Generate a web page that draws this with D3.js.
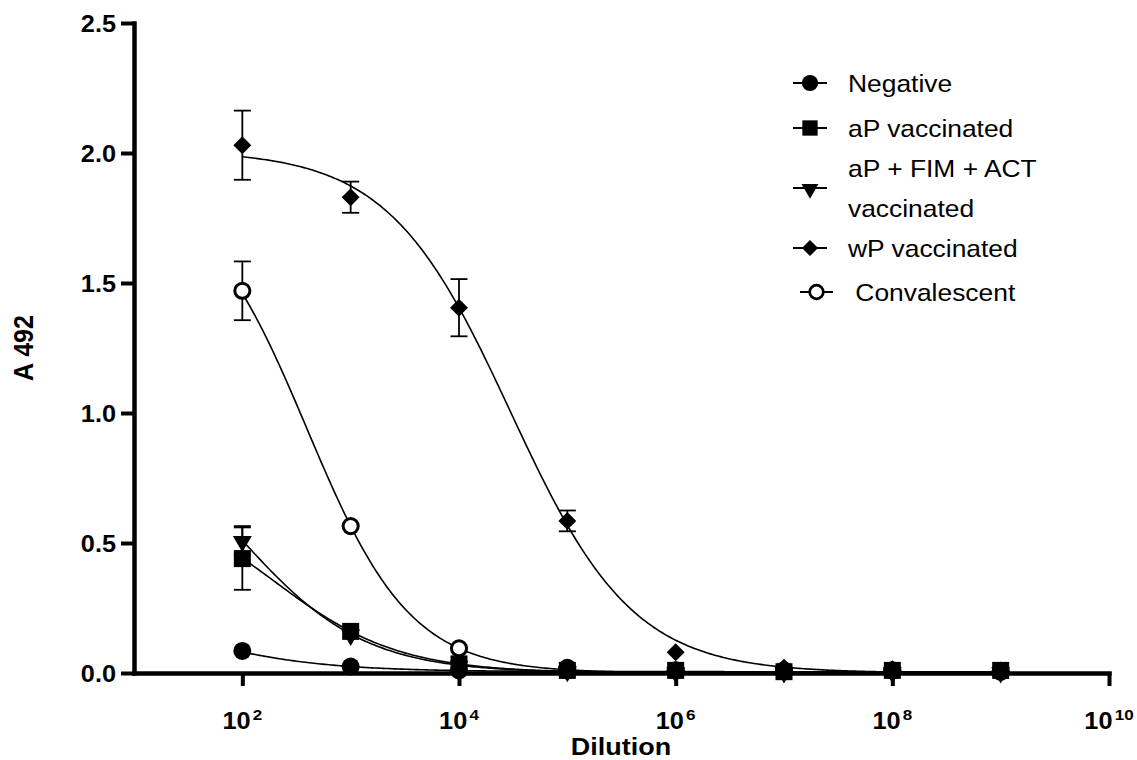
<!DOCTYPE html>
<html>
<head>
<meta charset="utf-8">
<script src="https://cdn.jsdelivr.net/npm/d3@7"></script>
<style>
  body { margin: 0; background: #fff; }
  svg { display: block; }
  text { font-family: "Liberation Sans", Arial, Helvetica, sans-serif; fill: #000; }
</style>
</head>
<body>
<svg id="chart" width="1137" height="760"></svg>
<script>
// Serum dilutions tested
const dilutions = [1e2, 1e3, 1e4, 1e5, 1e6, 1e7, 1e8, 1e9];

// Mean A492 per group
const negativeMean  = [0.085, 0.025, 0.010, 0.010, 0.010, 0.008, 0.010, 0.005];
const aPMean        = [0.44, 0.160, 0.035, 0.010, 0.010, 0.005, 0.010, 0.010];
const aPFimActMean  = [0.51, 0.150, 0.030, 0.010, 0.005, 0.005, 0.005, 0.005];
const wPMean        = [2.03, 1.830, 1.405, 0.585, 0.080, 0.020, 0.015, 0.010];
const convMean      = [1.47, 0.565, 0.095, 0.020, 0.010, 0.010, 0.010, 0.005];

// Standard error per group
const negativeSem   = [0, 0, 0, 0, 0, 0, 0, 0];
const aPSem         = [0.12, 0, 0, 0, 0, 0, 0, 0];
const aPFimActSem   = [0.055, 0, 0, 0, 0, 0, 0, 0];
const wPSem         = [0.133, 0.06, 0.11, 0.04, 0, 0, 0, 0];
const convSem       = [0.113, 0, 0, 0, 0, 0, 0, 0];

// Four-parameter logistic fits (top, bottom, log EC50, Hill slope)
const fitTop      = [0.30, 0.71, 1.05, 2.01, 1.88];
const fitBottom   = [0.005, 0, 0, 0, 0];
const fitLogEC50  = [1.326, 2.288, 1.967, 4.475, 2.596];
const fitHill     = [0.68, 0.753, 0.753, 0.77, 0.907];

// Legend labels (one entry per line)
const legendLabels = [["Negative"], ["aP vaccinated"], ["aP + FIM + ACT", "vaccinated"], ["wP vaccinated"], [" Convalescent"]];
const markerTypes = ["circle", "square", "triangleDown", "diamond", "openCircle"];

// Axis ticks
const xTickExponents = [2, 4, 6, 8, 10];
const yTicks = [0, 0.5, 1.0, 1.5, 2.0, 2.5];

const means = [negativeMean, aPMean, aPFimActMean, wPMean, convMean];
const sems = [negativeSem, aPSem, aPFimActSem, wPSem, convSem];

const svg = d3.select("#chart");

const x = d3.scaleLog().domain([1e1, 1e10]).range([134, 1109]);
const y = d3.scaleLinear().domain([0, 2.5]).range([673, 23]);

// Horizontal widening applied to all lettering
const TEXT_STRETCH = 1.1;

function markerPath(type) {
  switch (type) {
    case "circle": return d3.symbol(d3.symbolCircle, 255)();
    case "openCircle": return d3.symbol(d3.symbolCircle, 180)();
    case "square": return d3.symbol(d3.symbolSquare, 289)();
    case "triangleDown": return d3.symbol(d3.symbolTriangle, 155)();
    case "diamond": return d3.symbol(d3.symbolSquare, 160)();
  }
}
function markerTransform(type, px, py) {
  if (type === "triangleDown") return `translate(${px},${py + 1}) rotate(180)`;
  if (type === "diamond") return `translate(${px},${py}) rotate(45)`;
  return `translate(${px},${py})`;
}
function drawMarker(g, type, px, py, scale = 1) {
  const open = type === "openCircle";
  g.append("path")
    .attr("d", markerPath(type))
    .attr("transform", markerTransform(type, px, py) + ` scale(${scale})`)
    .attr("fill", open ? "#fff" : "#000")
    .attr("stroke", "#000")
    .attr("stroke-width", open ? 3 : 0);
}
function stretchedText(parent, px, py, rotate = 0) {
  return parent.append("text")
    .attr("transform", `translate(${px},${py}) rotate(${rotate}) scale(${TEXT_STRETCH},1)`);
}

// Fitted curves
const curveLayer = svg.append("g");
const line = d3.line().x(d => x(d[0])).y(d => y(d[1]));
means.forEach((_, i) => {
  const pts = d3.range(2, 9.0001, 0.02).map(lx => {
    const v = fitBottom[i] + (fitTop[i] - fitBottom[i]) / (1 + Math.pow(10, fitHill[i] * (lx - fitLogEC50[i])));
    return [Math.pow(10, lx), v];
  });
  curveLayer.append("path")
    .attr("d", line(pts))
    .attr("fill", "none")
    .attr("stroke", "#000")
    .attr("stroke-width", 1.6);
});

// Error bars and markers, drawn so the first group sits on top
const markLayer = svg.append("g");
for (let i = means.length - 1; i >= 0; i--) {
  const g = markLayer.append("g");
  dilutions.forEach((dx, j) => {
    const m = means[i][j], s = sems[i][j];
    const px = x(dx);
    if (s > 0) {
      g.append("line").attr("x1", px).attr("x2", px)
        .attr("y1", y(m - s)).attr("y2", y(m + s))
        .attr("stroke", "#000").attr("stroke-width", 1.8);
      [m - s, m + s].forEach(v => {
        g.append("line").attr("x1", px - 8.5).attr("x2", px + 8.5)
          .attr("y1", y(v)).attr("y2", y(v))
          .attr("stroke", "#000").attr("stroke-width", 1.8);
      });
    }
    drawMarker(g, markerTypes[i], px, y(m));
  });
}

// Axes
const yAxis = d3.axisLeft(y).tickValues(yTicks).tickFormat(() => "")
  .tickSizeInner(13).tickSizeOuter(0);
const gy = svg.append("g").attr("transform", "translate(134,0)").call(yAxis);
gy.select(".domain").attr("stroke-width", 4.5).attr("stroke-linecap", "square");
gy.selectAll(".tick line").attr("stroke-width", 4);
gy.selectAll(".tick text").remove();
const fmt = d3.format(".1f");
yTicks.forEach(v => {
  stretchedText(svg, 116, y(v) + 8.5)
    .attr("text-anchor", "end").attr("font-size", 23).attr("font-weight", "bold")
    .text(fmt(v));
});

const xAxis = d3.axisBottom(x).tickValues(xTickExponents.map(e => Math.pow(10, e)))
  .tickFormat(() => "").tickSizeInner(13).tickSizeOuter(0);
const gx = svg.append("g").attr("transform", "translate(0,673)").call(xAxis);
gx.select(".domain").attr("stroke-width", 4.5).attr("stroke-linecap", "square");
gx.selectAll(".tick line").attr("stroke-width", 4);
gx.selectAll(".tick text").remove();

xTickExponents.forEach(e => {
  const t = stretchedText(svg, x(Math.pow(10, e)), 729)
    .attr("text-anchor", "middle")
    .attr("font-size", 23)
    .attr("font-weight", "bold");
  t.append("tspan").text("10");
  t.append("tspan").attr("dy", -9).attr("font-size", 15.5).attr("dx", 2).text(e);
});

// Axis titles
stretchedText(svg, 621, 755).attr("text-anchor", "middle")
  .attr("font-size", 24.5).attr("font-weight", "bold").text("Dilution");
svg.append("text").attr("transform", `translate(33,348) rotate(-90) scale(1,${TEXT_STRETCH})`)
  .attr("text-anchor", "middle").attr("font-size", 25).attr("font-weight", "bold").text("A 492");

// Legend
const legendRows = [83, 128, 188, 248, 292];
const legend = svg.append("g");
legendLabels.forEach((lines, i) => {
  const cy = legendRows[i];
  const open = markerTypes[i] === "openCircle";
  const lx0 = open ? 800 : 793, lx1 = open ? 833 : 827;
  legend.append("line").attr("x1", lx0).attr("x2", lx1).attr("y1", cy).attr("y2", cy)
    .attr("stroke", "#000").attr("stroke-width", 2);
  drawMarker(legend, markerTypes[i], (lx0 + lx1) / 2, cy, 0.9);
  const offset = (lines.length - 1) * 20;
  lines.forEach((s, k) => {
    stretchedText(legend, 848, cy + 8.5 - offset + k * 40)
      .attr("font-size", 24).style("white-space", "pre").text(s);
  });
});
</script>
</body>
</html>
